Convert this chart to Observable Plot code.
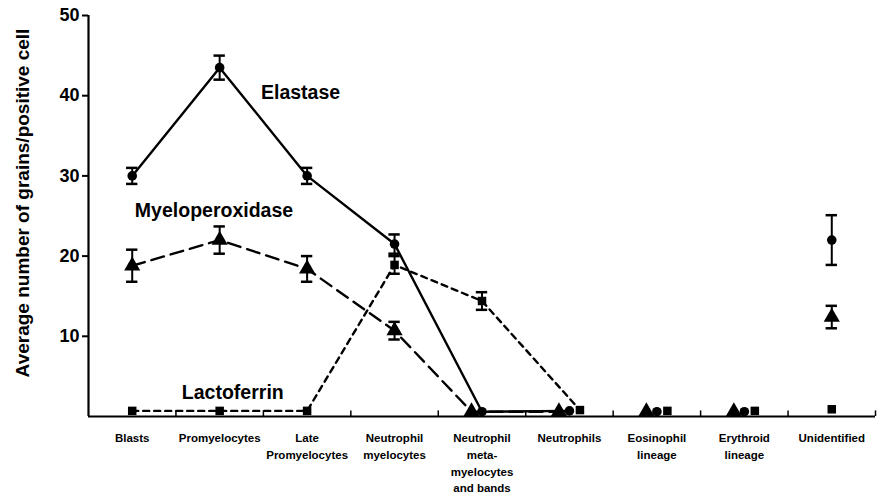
<!DOCTYPE html>
<html><head><meta charset="utf-8">
<script src="https://cdn.jsdelivr.net/npm/d3@7"></script>
<script src="https://cdn.jsdelivr.net/npm/@observablehq/plot@0.6"></script>
<style>
body{margin:0;background:#fff;}
svg{font-family:"Liberation Sans",Arial,Helvetica,sans-serif;}
</style></head>
<body><div id="chart"></div>
<script>
const categories = ["Blasts","Promyelocytes","Late\nPromyelocytes","Neutrophil\nmyelocytes","Neutrophil\nmeta-\nmyelocytes\nand bands","Neutrophils","Eosinophil\nlineage","Erythroid\nlineage","Unidentified"];
const elastase     = [30, 43.5, 30, 21.5, 0.6, 0.7, 0.6, 0.6, 22];
const elastaseErr  = [1, 1.5, 1, 1.2, 0, 0, 0, 0, 3.1];
const myelo        = [18.8, 22, 18.4, 10.7, 0.6, 0.6, 0.6, 0.6, 12.4];
const myeloErr     = [2, 1.7, 1.6, 1.1, 0, 0, 0, 0, 1.4];
const lacto        = [0.7, 0.7, 0.7, 18.9, 14.4, 0.8, 0.7, 0.7, 0.9];
const lactoErr     = [0, 0, 0, 1.1, 1.1, 0, 0, 0, 0];
const yTicks = [10, 20, 30, 40, 50];
const seriesInfo = [
  {name:"Elastase", values: elastase, err: elastaseErr, symbol:"circle", dash:null, off: 0, r: 4.8},
  {name:"Myeloperoxidase", values: myelo, err: myeloErr, symbol:"triangle", dash:"13,7", off: -0.12, r: 6},
  {name:"Lactoferrin", values: lacto, err: lactoErr, symbol:"square", dash:"6,5", off: 0.12, r: 4.8}
];
const labelText = ["Elastase","Myeloperoxidase","Lactoferrin"];
const labelX = [1.925, 0.935, 1.15];
const labelY = [40.4, 25.7, 3.0];

const rows = [];
for (const s of seriesInfo) {
  s.values.forEach((v, i) => {
    const shift = (i >= 4 && i <= 7 && v < 2) ? s.off : 0;
    rows.push({series: s.name, i, x: i + shift, v, lo: v - s.err[i], hi: v + s.err[i], err: s.err[i], symbol: s.symbol, dash: s.dash, r: s.r});
  });
}
const labels = labelText.map((t, k) => ({t, x: labelX[k], y: labelY[k]}));
const bounds = categories.map((_, i) => i + 0.5);
const errRows = rows.filter(d => d.err > 0);

const marks = [
  Plot.ruleY([0], {strokeWidth: 2.2}),
  Plot.ruleX([-0.5], {strokeWidth: 2.2}),
  Plot.ruleX(bounds, {y1: 0, y2: 0.7, strokeWidth: 1.5}),
  Plot.axisY({ticks: yTicks, tickSize: 6, tickPadding: 3, fontSize: 18, fontWeight: "bold", strokeWidth: 2, label: null}),
  Plot.axisX({ticks: d3.range(categories.length), tickSize: 0, tickPadding: 14, tickFormat: i => categories[i], fontSize: 11.5, fontWeight: "bold", lineHeight: 1.45, label: null}),
];
for (const s of seriesInfo) {
  marks.push(Plot.line(rows.filter(d => d.series === s.name && d.i <= 5), {x: "x", y: "v", stroke: "black", strokeWidth: 2.4, strokeDasharray: s.dash}));
}
marks.push(
  Plot.ruleX(errRows, {x: "x", y1: "lo", y2: "hi", strokeWidth: 2}),
  Plot.ruleY(errRows, {y: "lo", x1: d => d.x - 0.065, x2: d => d.x + 0.065, strokeWidth: 2.5}),
  Plot.ruleY(errRows, {y: "hi", x1: d => d.x - 0.065, x2: d => d.x + 0.065, strokeWidth: 2.5})
);
for (const s of seriesInfo) {
  marks.push(Plot.dot(rows.filter(d => d.series === s.name), {x: "x", y: "v", symbol: s.symbol, r: s.r, fill: "black", stroke: "none"}));
}
marks.push(Plot.text(labels, {x: "x", y: "y", text: "t", fontSize: 19.5, fontWeight: "bold"}));

const chart = Plot.plot({
  width: 880, height: 496,
  marginLeft: 88, marginRight: 5, marginTop: 15, marginBottom: 80,
  x: {type: "linear", domain: [-0.5, 8.5], axis: null},
  y: {domain: [0, 50], axis: null},
  style: {fontFamily: "'Liberation Sans', Arial, Helvetica, sans-serif", color: "black", background: "white"},
  marks
});
// y-axis label
const svg = d3.select(chart);
svg.append("text")
  .attr("transform", "translate(29,203) rotate(-90)")
  .attr("text-anchor", "middle")
  .attr("font-size", 19)
  .attr("font-weight", "bold")
  .attr("fill", "black")
  .text("Average number of grains/positive cell");
document.getElementById("chart").appendChild(chart);
</script>
</body></html>
